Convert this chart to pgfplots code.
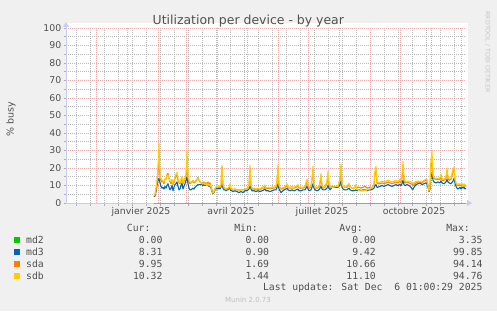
\documentclass[border=0pt]{standalone}
\usepackage{fontspec}
\setmainfont{DejaVu Sans}
\newfontfamily\monofont{DejaVu Sans Mono}
\usepackage{pgfplots}
\pgfplotsset{compat=1.18}
\usepackage{pgfplotstable}
\usetikzlibrary{arrows.meta}

\definecolor{bg}{HTML}{F0F0F0}
\definecolor{mgrid}{HTML}{EBA8A8}
\definecolor{mingrid}{HTML}{B8B8B8}
\definecolor{axiscol}{HTML}{C8CCF4}
\definecolor{txt}{HTML}{505050}
\definecolor{cmd2}{HTML}{00CC00}
\definecolor{cmd3}{HTML}{0066B3}
\definecolor{csda}{HTML}{FF8000}
\definecolor{csdb}{HTML}{FFCC00}

% x = days since 31 Oct 2024 (1 = 1 Nov 2024, 401 = 6 Dec 2025)
\pgfplotstableread{
x md3 sda sdb
89 3.5 4.0 4.5
90 4.0 4.5 5.0
91 6.5 7.5 8.5
92 10.0 11.5 13.0
93 13.0 18.0 20.0
94 14.0 25.0 34.0
95 11.5 14.0 15.0
96 9.5 13.0 14.0
97 8.5 12.0 13.0
98 9.0 12.5 12.5
99 8.0 11.0 12.0
100 9.5 13.5 14.0
101 8.5 14.0 13.5
102 10.0 16.0 15.5
103 11.0 17.0 16.0
104 9.0 14.0 14.5
105 7.5 12.0 12.5
106 8.5 11.0 12.0
107 10.0 12.5 13.5
108 7.0 10.5 11.0
109 9.0 12.0 13.0
110 10.5 14.0 15.0
111 11.0 15.5 16.5
112 12.0 16.0 17.5
113 9.5 13.0 14.0
114 7.5 11.5 12.0
115 8.0 11.0 11.5
116 10.0 12.5 13.5
117 11.5 14.0 15.0
118 8.0 11.0 11.5
119 9.5 12.5 13.0
120 11.0 14.0 14.5
121 13.0 15.0 16.0
122 15.0 22.0 30.0
123 11.0 14.0 15.0
124 8.5 12.0 13.0
125 7.5 11.0 12.0
126 7.5 11.5 11.5
127 8.0 12.0 12.5
128 8.5 12.5 13.0
129 8.0 11.5 12.0
130 9.0 12.0 12.5
131 9.5 12.5 13.0
132 10.0 13.5 13.5
133 10.5 14.5 14.0
134 10.5 13.0 13.0
135 10.5 12.0 12.5
136 10.5 11.5 11.5
137 10.5 11.0 11.0
138 10.0 11.5 11.0
139 10.5 12.0 11.5
140 10.0 11.0 10.5
141 10.5 11.5 11.0
142 10.0 11.0 10.0
143 10.5 12.0 11.0
144 9.5 10.5 10.0
145 10.0 11.5 10.5
146 8.5 9.5 9.0
147 6.5 7.5 7.0
148 5.5 6.0 5.8
149 6.0 6.5 6.5
150 7.5 8.0 8.0
151 8.0 9.0 9.0
152 8.5 9.5 9.5
153 8.0 9.0 9.0
154 9.0 9.5 10.0
155 8.0 9.0 9.0
156 9.0 10.0 10.5
157 11.0 20.5 21.5
158 8.5 10.0 10.5
159 7.5 8.5 9.0
160 7.5 8.5 8.5
161 7.0 8.0 8.0
162 7.5 8.5 8.5
163 7.5 8.0 8.5
164 8.0 8.5 9.0
165 8.5 9.5 11.0
166 7.0 8.0 8.0
167 7.0 8.0 8.0
168 6.5 7.5 7.5
170 7.0 8.0 8.0
172 6.5 7.5 7.5
174 6.0 7.5 7.0
176 6.5 7.5 7.5
178 6.0 7.5 7.5
180 7.0 8.0 8.0
182 7.0 8.0 8.5
183 7.5 8.5 8.5
184 8.0 9.5 10.0
185 10.0 19.0 21.5
186 8.0 9.5 10.0
187 7.0 8.0 8.5
189 7.0 8.0 8.5
191 6.5 7.5 8.0
193 7.0 8.0 8.5
195 6.5 7.5 8.0
197 7.0 8.5 9.0
199 7.5 8.5 9.5
200 8.0 9.5 10.3
201 7.0 8.0 8.5
203 7.0 8.5 9.0
205 6.5 8.0 8.5
207 7.0 8.5 9.0
209 7.5 8.5 9.0
211 7.5 9.0 9.5
212 9.0 12.0 13.0
213 11.0 20.0 21.7
214 8.0 10.0 10.5
215 7.0 8.5 9.0
216 5.9 8.0 8.5
217 6.5 8.0 8.5
219 7.5 8.5 9.0
221 8.0 9.5 10.0
222 8.5 10.0 11.0
223 7.5 8.5 9.0
225 7.0 8.5 9.0
227 7.5 8.5 9.5
229 7.0 8.5 9.0
231 7.5 9.0 9.5
233 8.0 9.5 10.5
234 7.0 8.5 9.0
236 7.0 8.5 9.0
238 7.5 8.5 9.0
240 7.5 9.0 9.5
241 8.5 10.5 11.5
242 9.5 12.5 13.7
243 8.0 9.5 10.0
244 7.0 8.5 9.0
246 7.5 9.0 9.5
247 9.0 13.0 14.0
248 11.0 19.0 21.0
249 8.5 10.0 10.5
250 7.5 8.5 9.0
252 7.0 8.5 9.0
254 7.5 9.0 9.5
255 8.5 11.0 12.5
256 9.5 15.0 16.8
257 8.0 10.0 10.5
258 7.5 8.5 9.0
260 7.5 9.0 9.5
262 8.5 11.5 12.5
263 10.0 16.5 18.0
264 8.5 10.5 11.0
265 7.5 9.0 9.5
267 9.0 9.5 9.0
269 9.0 9.5 9.0
271 9.0 9.5 9.5
273 9.0 9.5 9.5
275 10.5 13.0 14.0
276 12.5 21.0 22.5
277 9.0 10.5 11.0
278 8.0 9.5 9.5
280 7.5 9.0 9.0
282 7.5 9.0 9.5
284 8.5 10.5 11.3
285 7.5 9.0 9.0
287 7.0 8.5 8.5
289 7.0 8.5 8.0
291 7.5 9.5 10.5
292 7.0 9.0 8.0
294 7.5 9.0 7.0
296 7.0 8.5 7.5
298 7.5 9.0 6.8
300 7.5 9.5 7.0
302 7.0 8.5 7.5
304 7.5 9.0 8.0
306 7.5 8.5 8.5
308 8.0 9.0 9.0
309 8.5 10.5 11.5
310 10.0 17.0 18.0
311 10.5 19.0 21.0
312 9.0 11.5 12.0
313 9.0 11.0 11.5
315 9.5 11.0 12.0
317 10.0 11.5 12.5
319 9.5 11.0 12.0
321 10.0 11.5 12.5
323 10.5 12.0 13.0
325 10.0 11.5 12.5
327 9.5 11.0 12.0
329 10.0 11.5 12.5
331 10.5 12.0 13.0
333 10.0 11.5 12.5
335 10.5 12.5 13.5
336 10.0 11.5 12.5
337 11.0 14.0 15.5
338 13.0 21.0 23.8
339 10.5 13.0 14.0
340 10.0 11.5 12.5
342 10.5 12.0 12.5
344 10.0 11.5 12.5
346 9.0 11.0 12.0
347 8.0 10.5 11.5
348 7.8 10.0 11.0
349 9.0 10.5 11.5
351 10.5 11.5 12.5
353 11.0 12.0 12.5
355 11.5 12.0 12.5
357 10.5 11.5 12.0
359 11.0 12.5 13.0
361 11.5 13.0 13.7
362 11.0 12.5 13.5
363 9.0 10.0 10.0
364 6.5 7.0 7.0
365 8.0 9.0 9.5
366 15.0 22.0 24.0
367 17.0 26.0 29.5
368 13.0 15.0 16.0
369 12.0 14.0 14.5
371 11.5 13.5 14.0
373 12.0 13.5 14.0
375 11.5 13.5 14.5
376 12.5 15.0 16.5
377 11.5 13.0 14.0
379 11.0 13.0 13.5
381 12.0 14.0 15.0
382 13.5 18.5 20.0
383 12.0 14.0 15.0
384 11.5 13.0 14.0
386 11.0 13.5 14.0
388 12.5 18.0 19.5
389 14.0 19.5 20.5
390 11.5 13.0 13.5
391 9.5 11.0 11.5
392 8.5 10.0 10.5
393 8.0 10.5 11.0
394 8.5 10.0 10.5
395 9.0 10.5 11.0
396 8.0 10.0 10.5
397 9.0 10.5 11.0
398 8.5 9.5 10.0
399 9.0 10.5 11.0
400 8.0 9.5 10.0
401 8.31 9.95 10.32
}\datatable

\begin{document}
\begin{tikzpicture}[x=1bp,y=1bp]
\fill[bg] (0,0) rectangle (497,311);
\fill[white] (66,108) rectangle (468,288);
% axis with grids, ticks and data
\begin{axis}[
  at={(66bp,108bp)}, anchor=south west,
  scale only axis, width=400bp, height=175bp,
  xmin=1, xmax=401, ymin=0, ymax=100,
  clip=false,
  axis x line=bottom, axis y line=left,
  axis line style={draw=axiscol, line width=1bp},
  x axis line style={-{Triangle[width=6bp,length=5bp]}, shorten >=-6bp},
  y axis line style={-{Triangle[width=6bp,length=5bp]}, shorten >=-6bp},
  xtick={11,25,...,389},
  xticklabels={},
  extra x ticks={31,62,93,121,152,182,213,243,274,305,335,366,396},
  extra x tick labels={},
  extra x tick style={major x grid style={mgrid, line width=0.8bp, dash pattern=on 1bp off 1bp}, major tick length=0pt},
  ytick={0,10,...,100},
  minor ytick={5,15,...,95},
  xmajorgrids=true, ymajorgrids=true, yminorgrids=true,
  major grid style={mgrid, line width=0.8bp, dash pattern=on 1bp off 1bp},
  major x grid style={mingrid, line width=0.8bp, dash pattern=on 1bp off 1bp},
  minor grid style={mingrid, line width=0.8bp, dash pattern=on 1bp off 1bp},
  tick style={axiscol!60!gray, line width=0.7bp},
  tick align=outside, major tick length=2.5bp, minor tick length=2bp,
  /pgf/number format/assume math mode=true,
  tick label style={font=\fontsize{9.4}{11}\selectfont, text=txt},
  yticklabel style={anchor=east, inner sep=0pt, xshift=-2bp},
  every axis plot/.append style={line width=1.1bp, line join=round},
]
\addplot[cmd2, line width=0.8bp, opacity=0.55] coordinates {(89,0) (401,0)};
\addplot[cmd3] table[x=x,y=md3]{\datatable};
\addplot[csda] table[x=x,y=sda]{\datatable};
\addplot[csdb] table[x=x,y=sdb]{\datatable};
\end{axis}
% overlay axis for the month labels (centred mid-month)
\begin{axis}[
  at={(66bp,108bp)}, anchor=south west,
  scale only axis, width=400bp, height=175bp,
  xmin=1, xmax=401, ymin=0, ymax=100,
  axis line style={draw=none}, ytick=\empty,
  xtick={76,166,257,349},
  xticklabels={janvier 2025, avril 2025, juillet 2025, octobre 2025},
  major tick length=0pt, tick style={draw=none},
  tick label style={font=\fontsize{9.4}{11}\selectfont, text=txt},
  xticklabel style={anchor=base, yshift=-11.5bp},
]
\end{axis}

\node[anchor=base, font=\fontsize{12.5}{14}\selectfont, text=txt] at (248.3,287) {Utilization per device - by year};
\node[rotate=90, font=\fontsize{9.5}{11}\selectfont, text=txt] at (11,192) {\% busy};
\node[rotate=-90, font=\fontsize{6.3}{7}\selectfont, text=black!22] at (487.7,259) {RRDTOOL / TOBI OETIKER};

\begin{scope}[every node/.style={font=\monofont\fontsize{9.8}{11}\selectfont, text=txt, inner sep=0pt}]
\node[anchor=base east] at (150.7,79.1) {Cur:};
\node[anchor=base east] at (258,79.1) {Min:};
\node[anchor=base east] at (363,79.1) {Avg:};
\node[anchor=base east] at (470,79.1) {Max:};
\fill[cmd2] (13.7,68) rectangle (19.7,74);
\fill[cmd3] (13.7,56.3) rectangle (19.7,62.3);
\fill[csda] (13.7,44) rectangle (19.7,50);
\fill[csdb] (13.7,32) rectangle (19.7,38);
\node[anchor=base west] at (26,67.4) {md2};
\node[anchor=base west] at (26,55.7) {md3};
\node[anchor=base west] at (26,43.4) {sda};
\node[anchor=base west] at (26,31.4) {sdb};
\node[anchor=base east] at (162.7,67.4) {0.00};
\node[anchor=base east] at (269.3,67.4) {0.00};
\node[anchor=base east] at (376,67.4) {0.00};
\node[anchor=base east] at (482.7,67.4) {3.35};
\node[anchor=base east] at (162.7,55.7) {8.31};
\node[anchor=base east] at (269.3,55.7) {0.90};
\node[anchor=base east] at (376,55.7) {9.42};
\node[anchor=base east] at (482.7,55.7) {99.85};
\node[anchor=base east] at (162.7,43.4) {9.95};
\node[anchor=base east] at (269.3,43.4) {1.69};
\node[anchor=base east] at (376,43.4) {10.66};
\node[anchor=base east] at (482.7,43.4) {94.14};
\node[anchor=base east] at (162.7,31.4) {10.32};
\node[anchor=base east] at (269.3,31.4) {1.44};
\node[anchor=base east] at (376,31.4) {11.10};
\node[anchor=base east] at (482.7,31.4) {94.76};
\node[anchor=base east] at (482.7,20.1) {Last update: Sat Dec\ \ 6 01:00:29 2025};
\end{scope}
\node[font=\fontsize{7}{8}\selectfont, text=black!25] at (248,11) {Munin 2.0.73};
\end{tikzpicture}
\end{document}
